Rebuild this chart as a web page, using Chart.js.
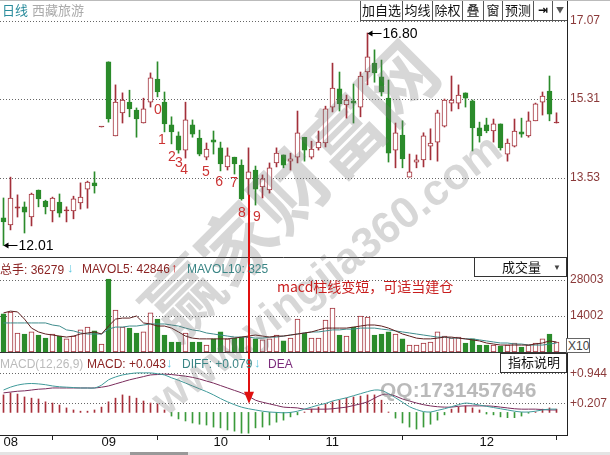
<!DOCTYPE html>
<html>
<head>
<meta charset="utf-8">
<title>西藏旅游 日线</title>
<script src="https://cdn.jsdelivr.net/npm/chart.js@4.4.1/dist/chart.umd.min.js"></script>
<style>
    body { margin: 0; background: #fff; font-family: "Liberation Sans", Arial, "Noto Sans CJK SC", sans-serif; }
    #wrap { position: relative; width: 610px; height: 455px; overflow: hidden; background: #fff; }
    .pane { position: absolute; left: 0; width: 610px; }
    #pricePane { top: 0; height: 257px; }
    #volPane { top: 257px; height: 95px; }
    #macdPane { top: 352px; height: 103px; }
    #overlay { position: absolute; left: 0; top: 0; z-index: 5; pointer-events: none; }
    .t { position: absolute; z-index: 6; font-size: 12px; line-height: 14px; white-space: nowrap; }
    .cjk { font-family: "Noto Sans CJK SC", sans-serif; }
    #toolbar { position: absolute; left: 360px; top: 0; height: 20px; display: flex; z-index: 6;
               border-left: 1px solid #555; border-bottom: 1px solid #555; background: #fff; }
    #toolbar span { box-sizing: border-box; border-right: 1px solid #555; text-align: center;
                    line-height: 20px; font-size: 13px; font-family: "Noto Sans CJK SC", sans-serif; color: #111; }
    .box { position: absolute; z-index: 6; box-sizing: border-box; border: 1px solid #333; background: #fff; }
</style>
</head>
<body>
<div id="wrap">
    <div class="pane" id="pricePane"><canvas id="priceChart"></canvas></div>
    <div class="pane" id="volPane"><canvas id="volChart"></canvas></div>
    <div class="pane" id="macdPane"><canvas id="macdChart"></canvas></div>
    <canvas id="overlay" width="610" height="455"></canvas>

    <!-- price pane header -->
    <div class="t cjk" style="left:2px;top:3px;font-size:13px;color:#2a8c9c">日线</div>
    <div class="t cjk" style="left:32px;top:3px;font-size:13px;color:#aaa">西藏旅游</div>
    <div id="toolbar">
        <span style="width:42px">加自选</span><span style="width:30px">均线</span><span style="width:30px">除权</span><span style="width:21px">叠</span><span style="width:19px">窗</span><span style="width:31px">预测</span><span style="width:19px;font-family:'DejaVu Sans';font-weight:bold;font-size:12px">⇥</span><span style="width:14px;font-size:8px;color:#555;border-right:none">▼</span>
    </div>

    <!-- volume pane header -->
    <div class="t" style="left:0;top:262px;color:#8b2323"><span class="cjk">总手</span>: 36279</div>
    <div class="t" style="left:67px;top:261px;color:#5cc6e0;font-weight:bold;font-size:13px">↓</div>
    <div class="t" style="left:82px;top:262px;color:#8b2323">MAVOL5: 42846</div>
    <div class="t" style="left:171px;top:261px;color:#c42020;font-weight:bold;font-size:13px">↑</div>
    <div class="t" style="left:187px;top:262px;color:#3a8585">MAVOL10: 325</div>
    <div class="box" style="left:474px;top:257px;width:93px;height:20px"></div>
    <div class="t cjk" style="left:502px;top:260px;font-size:13px;color:#111">成交量</div>
    <div class="t" style="left:553px;top:261px;font-size:8px;color:#444">▼</div>
    <div class="box" style="left:566px;top:338px;width:24px;height:15px;border-color:#666"></div>
    <div class="t" style="left:568px;top:339px;color:#444">X10</div>
    <div class="t cjk" style="left:277px;top:279px;font-size:14px;color:#c81e1e">macd柱线变短，可适当建仓</div>

    <!-- macd pane header -->
    <div class="t" style="left:0;top:357px;color:#bbb">MACD(12,26,9)</div>
    <div class="t" style="left:87px;top:357px;color:#8b2323">MACD: +0.043</div>
    <div class="t" style="left:166px;top:356px;color:#5cc6e0;font-weight:bold;font-size:13px">↓</div>
    <div class="t" style="left:182px;top:357px;color:#3a8585">DIFF: +0.079</div>
    <div class="t" style="left:254px;top:356px;color:#5cc6e0;font-weight:bold;font-size:13px">↓</div>
    <div class="t" style="left:268px;top:357px;color:#7b2b7b">DEA</div>
    <div class="box" style="left:500px;top:353px;width:67px;height:20px"></div>
    <div class="t cjk" style="left:508px;top:355px;font-size:13px;color:#111">指标说明</div>

    <div style="position:absolute;left:0;top:0;width:610px;height:1px;background:#bbb;z-index:6"></div>
    <div style="position:absolute;left:0;top:452px;width:610px;height:3px;background:#e4e4e4;z-index:6"></div>
    <div style="position:absolute;left:130px;top:452px;width:58px;height:3px;background:#999;z-index:6"></div>
</div>
<script>
    // daily candles, Aug - Dec
    const open = [
        12.63, 12.47, 12.85, 12.88, 12.65, 13.26, 13.01, 12.79, 12.99, 12.79,
        12.79, 12.97, 13.28, 13.42, 14.68, 16.15, 14.48, 15.00, 15.24, 15.06,
        14.77, 15.24, 15.76, 15.24, 14.73, 14.48, 14.16, 14.73, 14.43, 14.00,
        14.39, 14.21, 13.78, 14.00, 13.82, 13.51, 13.71, 13.33, 13.26, 13.87,
        14.05, 13.91, 14.00, 14.45, 14.00, 14.21, 14.32, 15.13, 15.54, 15.18,
        15.27, 15.13, 15.92, 16.12, 15.81, 15.33, 14.16, 14.50, 13.55, 13.89,
        13.94, 14.25, 14.34, 14.70, 15.22, 15.22, 15.45, 15.27, 14.66, 14.73,
        14.59, 14.75, 14.07, 14.25, 14.57, 14.48, 14.82, 15.24, 15.49, 14.77
    ];
    const high = [
        13.08, 13.55, 13.15, 12.99, 13.19, 13.26, 13.03, 13.10, 13.17, 12.88,
        13.12, 13.42, 13.46, 13.67, 14.68, 16.15, 15.63, 15.45, 15.51, 15.11,
        15.33, 15.90, 16.15, 15.47, 14.91, 14.57, 15.24, 14.84, 14.61, 14.32,
        14.59, 14.34, 14.21, 14.00, 13.94, 14.21, 13.80, 13.60, 13.87, 14.21,
        14.05, 14.09, 15.04, 14.45, 14.36, 14.59, 15.15, 16.12, 15.92, 15.40,
        15.65, 15.92, 16.80, 16.42, 16.19, 15.74, 14.77, 14.82, 14.07, 14.05,
        14.55, 14.64, 15.06, 15.31, 15.83, 15.63, 15.45, 15.29, 14.79, 14.88,
        14.86, 14.75, 14.41, 14.86, 14.88, 15.02, 15.22, 15.47, 15.83, 15.00
    ];
    const low = [
        12.01, 12.36, 12.65, 12.29, 12.45, 12.88, 12.72, 12.54, 12.65, 12.54,
        12.61, 12.83, 12.85, 13.19, 14.68, 14.79, 14.48, 14.77, 14.91, 14.45,
        14.77, 15.13, 15.36, 14.57, 14.30, 14.09, 13.98, 14.45, 14.03, 13.94,
        14.07, 13.69, 13.71, 13.62, 13.03, 13.15, 12.92, 13.08, 13.19, 13.78,
        13.76, 13.71, 13.87, 13.91, 13.96, 14.16, 14.23, 15.02, 15.04, 14.88,
        14.77, 14.91, 15.63, 15.69, 15.38, 13.89, 13.76, 13.76, 13.55, 13.76,
        13.78, 13.94, 13.91, 14.68, 15.04, 15.09, 15.13, 14.14, 14.34, 14.55,
        14.34, 14.16, 13.91, 14.23, 14.45, 14.45, 14.82, 14.95, 14.82, 14.77
    ];
    const close = [
        12.54, 13.08, 12.88, 12.76, 13.17, 13.06, 12.88, 13.08, 12.74, 12.81,
        13.06, 13.10, 13.44, 13.35, 14.68, 14.86, 15.24, 15.29, 15.09, 14.86,
        15.09, 15.79, 15.47, 14.75, 14.57, 14.16, 14.84, 14.52, 14.07, 14.18,
        14.34, 13.85, 14.03, 13.85, 13.06, 13.67, 13.28, 13.51, 13.76, 14.09,
        13.82, 13.96, 14.55, 14.16, 14.18, 14.34, 15.09, 15.56, 15.20, 15.29,
        15.22, 15.83, 16.26, 15.90, 15.47, 14.09, 14.55, 13.96, 13.67, 13.94,
        14.48, 14.32, 15.00, 15.29, 15.29, 15.40, 15.33, 14.66, 14.48, 14.59,
        14.75, 14.21, 14.32, 14.59, 14.52, 14.82, 15.20, 15.38, 14.97, 14.78
    ];

    // volume (x10) and its moving averages
    const vol = [
        14800, 15500, 7400, 7000, 7800, 6600, 5400, 7000, 6200, 5100,
        6200, 8600, 9700, 8200, 3100, 28400, 16300, 9700, 9300, 7400,
        7800, 15200, 12800, 6600, 3900, 3900, 7400, 3900, 3900, 2700,
        5100, 7800, 5100, 5400, 5800, 5800, 5100, 4700, 5100, 6600,
        4300, 5400, 12800, 7400, 5400, 5400, 12400, 17100, 6600, 6200,
        9700, 14000, 13600, 6600, 7000, 7800, 7000, 5100, 2700, 2700,
        3500, 3900, 7800, 6200, 5400, 5800, 3500, 5100, 2700, 2700,
        2700, 2300, 2700, 3500, 1900, 2700, 3500, 5100, 7000, 3900
    ];
    const mavol5 = [
        15200, 15900, 15600, 12800, 9300, 7800, 7000, 6600, 6200, 5800,
        6200, 7000, 7400, 7800, 7000, 10100, 12800, 13200, 13200, 14000,
        11300, 10900, 10100, 10100, 9300, 7800, 6200, 5400, 5100, 5100,
        5100, 5100, 5100, 5400, 5800, 6200, 6600, 6200, 5800, 6200,
        6200, 6600, 7000, 7400, 7800, 8600, 9300, 9300, 9300, 9300,
        9700, 10100, 10500, 10500, 10100, 9300, 8200, 7000, 6200, 5400,
        5100, 5100, 5400, 5800, 5800, 5400, 5100, 4700, 4300, 3500,
        3100, 2700, 2700, 2700, 2700, 2700, 3100, 3500, 4300, 3900
    ];
    const mavol10 = [
        11300, 11300, 11300, 11300, 11300, 11300, 11300, 10500, 10100, 8600,
        8200, 7400, 7000, 7000, 7000, 8900, 9700, 9700, 10100, 10100,
        10500, 10900, 10900, 10900, 10500, 10100, 9300, 8600, 8200, 7400,
        7000, 6600, 6200, 5800, 5800, 5800, 5400, 5400, 5800, 5800,
        6200, 6600, 7000, 7400, 7800, 7800, 8200, 8600, 8600, 8900,
        8900, 9300, 9300, 9300, 8900, 8600, 8200, 7800, 7400, 7000,
        6600, 6200, 5800, 5800, 5400, 5400, 5100, 5100, 4700, 4300,
        3900, 3500, 3500, 3100, 3100, 2700, 2700, 2700, 3100, 3500
    ];

    // MACD(12,26,9)
    const macdBar = [
        0.43, 0.48, 0.45, 0.38, 0.35, 0.33, 0.26, 0.23, 0.18, 0.11,
        0.06, 0.03, 0.03, 0.06, 0.13, 0.26, 0.35, 0.43, 0.40, 0.35,
        0.28, 0.23, 0.21, 0.06, -0.09, -0.16, -0.21, -0.26, -0.29, -0.31,
        -0.36, -0.38, -0.43, -0.46, -0.51, -0.51, -0.38, -0.36, -0.31, -0.24,
        -0.19, -0.11, -0.06, 0.01, 0.08, 0.13, 0.21, 0.26, 0.30, 0.35,
        0.38, 0.40, 0.43, 0.43, 0.30, 0.01, -0.14, -0.26, -0.36, -0.41,
        -0.36, -0.29, -0.19, -0.06, 0.08, 0.13, 0.16, 0.11, 0.06, -0.04,
        -0.06, -0.11, -0.13, -0.13, -0.09, -0.02, 0.01, 0.08, 0.11, 0.08
    ];
    const diff = [
        0.55, 0.62, 0.67, 0.70, 0.71, 0.70, 0.68, 0.65, 0.63, 0.62,
        0.61, 0.60, 0.60, 0.60, 0.67, 0.80, 0.87, 0.92, 0.95, 0.97,
        0.97, 0.97, 0.95, 0.92, 0.85, 0.79, 0.72, 0.65, 0.58, 0.51,
        0.43, 0.34, 0.26, 0.19, 0.13, 0.09, 0.06, 0.03, 0.01, 0.00,
        -0.01, 0.00, 0.03, 0.08, 0.13, 0.18, 0.22, 0.28, 0.32, 0.36,
        0.41, 0.46, 0.51, 0.55, 0.54, 0.46, 0.36, 0.25, 0.14, 0.07,
        0.02, 0.01, 0.05, 0.09, 0.14, 0.19, 0.23, 0.21, 0.18, 0.15,
        0.12, 0.09, 0.06, 0.03, 0.01, 0.01, 0.03, 0.06, 0.08, 0.08
    ];
    const dea = [
        0.48, 0.50, 0.52, 0.53, 0.55, 0.57, 0.58, 0.60, 0.60, 0.60,
        0.60, 0.60, 0.60, 0.60, 0.62, 0.65, 0.70, 0.75, 0.80, 0.84,
        0.88, 0.92, 0.93, 0.94, 0.93, 0.91, 0.89, 0.86, 0.82, 0.77,
        0.72, 0.66, 0.60, 0.54, 0.48, 0.40, 0.30, 0.25, 0.21, 0.17,
        0.13, 0.12, 0.11, 0.08, 0.08, 0.08, 0.08, 0.09, 0.11, 0.13,
        0.17, 0.21, 0.26, 0.35, 0.43, 0.45, 0.40, 0.33, 0.28, 0.23,
        0.19, 0.16, 0.14, 0.13, 0.13, 0.15, 0.16, 0.16, 0.16, 0.16,
        0.15, 0.13, 0.11, 0.09, 0.08, 0.08, 0.08, 0.07, 0.06, 0.06
    ];

    // axis labels
    const monthIdx = [0, 14, 30, 46, 68];
    const monthLabels = ['08', '09', '10', '11', '12'];
    const priceTicks = [17.07, 15.31, 13.53];
    const volTicks = [28003, 14002];
    const macdTicks = [0.944, 0.207];

    // hand-written wave counts on the chart
    const markText = ['0', '1', '2', '3', '4', '5', '6', '7', '8', '9'];
    const markIdx = [22.07, 22.64, 24.07, 25.07, 25.79, 28.93, 30.79, 32.93, 34.07, 36.21];
    const markPrice = [15.06, 14.39, 14.00, 13.87, 13.71, 13.67, 13.44, 13.42, 12.74, 12.65];

    const UP = '#a3303a';
    const DOWN = '#2b8b2b';
    const days = close.map((_, i) => i);
    const upDay = i => close[i] >= open[i];
    const dayColor = i => upDay(i) ? UP : DOWN;

    // solid separator line on top of each pane
    const paneLine = {
        id: 'paneLine',
        afterDraw(chart, args, opts) {
            if (!opts.color) return;
            const { ctx, chartArea } = chart;
            ctx.save();
            ctx.strokeStyle = opts.color;
            ctx.lineWidth = 1;
            ctx.beginPath();
            ctx.moveTo(0, chartArea.top + 0.5);
            ctx.lineTo(chartArea.right, chartArea.top + 0.5);
            ctx.stroke();
            ctx.restore();
        }
    };
    Chart.register(paneLine);

    function rightAxis(min, max, ticks, fmt) {
        return {
            position: 'right',
            min: min,
            max: max,
            afterBuildTicks: s => { s.ticks = ticks.map(v => ({ value: v })); },
            afterFit: s => { s.width = 43; s.paddingTop = 0; s.paddingBottom = 0; },
            grid: { color: '#666', lineWidth: 1, drawTicks: false },
            border: { display: true, color: '#222', dash: [1, 2] },
            ticks: {
                color: '#8b3a3a',
                padding: 3,
                font: { size: 12, family: '"Liberation Sans", Arial' },
                callback: fmt
            }
        };
    }

    function xAxis(show) {
        return {
            type: 'linear',
            min: -0.5,
            max: 80.5,
            offset: false,
            display: show,
            afterBuildTicks: s => { s.ticks = monthIdx.map(v => ({ value: v })); },
            afterFit: s => { s.height = show ? 20 : 0; s.paddingLeft = 0; s.paddingRight = 0; },
            grid: { drawOnChartArea: false, drawTicks: true, tickLength: 5, color: '#222' },
            border: { display: true, color: '#222' },
            ticks: {
                align: 'start',
                padding: -5,
                autoSkip: false,
                maxRotation: 0,
                color: '#111',
                font: { size: 13, family: '"Liberation Sans", Arial' },
                callback: (v, i) => monthLabels[i]
            }
        };
    }

    function paneOptions(yAxis, showX, lineColor) {
        return {
            responsive: true,
            maintainAspectRatio: false,
            animation: false,
            layout: { padding: 0 },
            plugins: {
                legend: { display: false },
                tooltip: { enabled: false },
                paneLine: { color: lineColor }
            },
            scales: { x: xAxis(showX), y: yAxis }
        };
    }

    const priceChart = new Chart(document.getElementById('priceChart'), {
        type: 'bar',
        data: {
            datasets: [
                {
                    label: 'body',
                    order: 0,
                    grouped: false,
                    data: days.map(i => ({ x: i, y: [open[i], close[i]] })),
                    barThickness: 5,
                    minBarLength: 1,
                    borderWidth: 1,
                    borderSkipped: false,
                    borderColor: c => dayColor(c.dataIndex),
                    backgroundColor: c => {
                        const i = c.dataIndex;
                        if (Math.abs(close[i] - open[i]) < 0.04) return dayColor(i);
                        return upDay(i) ? '#fff' : DOWN;
                    }
                },
                {
                    label: 'wick',
                    order: 1,
                    grouped: false,
                    data: days.map(i => ({ x: i, y: [low[i], high[i]] })),
                    barThickness: 1,
                    borderWidth: 0,
                    backgroundColor: c => dayColor(c.dataIndex)
                }
            ]
        },
        options: paneOptions(rightAxis(11.749, 17.544, priceTicks, v => v.toFixed(2)), false, null)
    });

    const volChart = new Chart(document.getElementById('volChart'), {
        type: 'bar',
        data: {
            datasets: [
                {
                    type: 'line', label: 'MAVOL5', order: -2,
                    data: days.map(i => ({ x: i, y: mavol5[i] })),
                    borderColor: '#5e1f1f', borderWidth: 1, pointRadius: 0, tension: 0
                },
                {
                    type: 'line', label: 'MAVOL10', order: -1,
                    data: days.map(i => ({ x: i, y: mavol10[i] })),
                    borderColor: '#3f8c8c', borderWidth: 1, pointRadius: 0, tension: 0
                },
                {
                    label: 'vol',
                    order: 0,
                    data: days.map(i => ({ x: i, y: vol[i] })),
                    barThickness: 5,
                    borderWidth: 1,
                    borderSkipped: false,
                    borderColor: c => dayColor(c.dataIndex),
                    backgroundColor: c => upDay(c.dataIndex) ? '#fff' : DOWN
                }
            ]
        },
        options: paneOptions(rightAxis(0, 36955, volTicks, v => String(v)), false, '#333')
    });

    const macdChart = new Chart(document.getElementById('macdChart'), {
        type: 'bar',
        data: {
            datasets: [
                {
                    type: 'line', label: 'DIFF', order: -2,
                    data: days.map(i => ({ x: i, y: diff[i] })),
                    borderColor: '#3f9a9a', borderWidth: 1, pointRadius: 0, tension: 0.3
                },
                {
                    type: 'line', label: 'DEA', order: -1,
                    data: days.map(i => ({ x: i, y: dea[i] })),
                    borderColor: '#7a2c5c', borderWidth: 1, pointRadius: 0, tension: 0.3
                },
                {
                    label: 'MACD',
                    order: 0,
                    data: days.map(i => ({ x: i, y: macdBar[i] })),
                    barThickness: 1,
                    borderWidth: 0,
                    backgroundColor: c => macdBar[c.dataIndex] >= 0 ? '#a8303a' : '#3a9a3a'
                }
            ]
        },
        options: paneOptions(rightAxis(-0.555, 1.484, macdTicks, v => '+' + v.toFixed(3)), true, '#333')
    });

    // annotations, arrow and watermark on a canvas laid over the three panes
    function drawOverlay() {
        const g = document.getElementById('overlay').getContext('2d');
        const xs = priceChart.scales.x;
        const ps = priceChart.scales.y;
        const ms = macdChart.scales.y;
        const macdTop = 352;

        // site watermark
        g.save();
        g.translate(290, 190);
        g.rotate(-Math.PI / 4);
        g.font = 'bold 76px "Noto Sans CJK SC"';
        g.fillStyle = 'rgba(110,110,110,0.28)';
        g.textAlign = 'center';
        g.textBaseline = 'middle';
        g.fillText('赢家财富网', 0, 0);
        g.restore();

        g.save();
        g.translate(328, 276);
        g.rotate(-0.66);
        g.font = 'bold 44px "Liberation Sans", Arial';
        g.fillStyle = 'rgba(110,110,110,0.28)';
        g.textAlign = 'center';
        g.textBaseline = 'middle';
        g.fillText('www.yingjia360.com', 0, 0);
        g.restore();

        g.font = 'bold 21px "Liberation Sans", Arial';
        g.fillStyle = 'rgba(130,130,130,0.55)';
        g.textAlign = 'left';
        g.textBaseline = 'alphabetic';
        g.fillText('QQ:1731457646', 380, 397);

        // wave numbers
        g.font = '14px "Liberation Sans", Arial';
        g.fillStyle = '#cc3333';
        g.textAlign = 'center';
        g.textBaseline = 'middle';
        markText.forEach((t, k) => {
            g.fillText(t, xs.getPixelForValue(markIdx[k]), ps.getPixelForValue(markPrice[k]));
        });

        // high / low markers
        function extreme(i, price) {
            const x = xs.getPixelForValue(i);
            const y = Math.round(ps.getPixelForValue(price)) + 0.5;
            g.strokeStyle = '#000';
            g.fillStyle = '#000';
            g.lineWidth = 1;
            g.beginPath();
            g.moveTo(x + 1, y);
            g.lineTo(x + 14, y);
            g.stroke();
            g.beginPath();
            g.moveTo(x, y);
            g.lineTo(x + 5, y - 3);
            g.lineTo(x + 5, y + 3);
            g.closePath();
            g.fill();
            g.font = '14px "Liberation Sans", Arial';
            g.textAlign = 'left';
            g.textBaseline = 'middle';
            g.fillText(price.toFixed(2), x + 15, y + 1);
        }
        const hiIdx = high.indexOf(Math.max(...high));
        const loIdx = low.indexOf(Math.min(...low));
        extreme(hiIdx, high[hiIdx]);
        extreme(loIdx, low[loIdx]);

        // red arrow from the low of day 36 down to the MACD lines
        const ax = xs.getPixelForValue(35) + 0.5;
        const y0 = ps.getPixelForValue(low[35]);
        const tip = macdTop + ms.getPixelForValue(0.21);
        g.strokeStyle = '#e01010';
        g.fillStyle = '#e01010';
        g.lineWidth = 2;
        g.beginPath();
        g.moveTo(ax, y0);
        g.lineTo(ax, tip - 10);
        g.stroke();
        g.beginPath();
        g.moveTo(ax - 5, tip - 12);
        g.lineTo(ax + 5, tip - 12);
        g.lineTo(ax, tip);
        g.closePath();
        g.fill();
    }
    drawOverlay();
</script>
</body>
</html>
